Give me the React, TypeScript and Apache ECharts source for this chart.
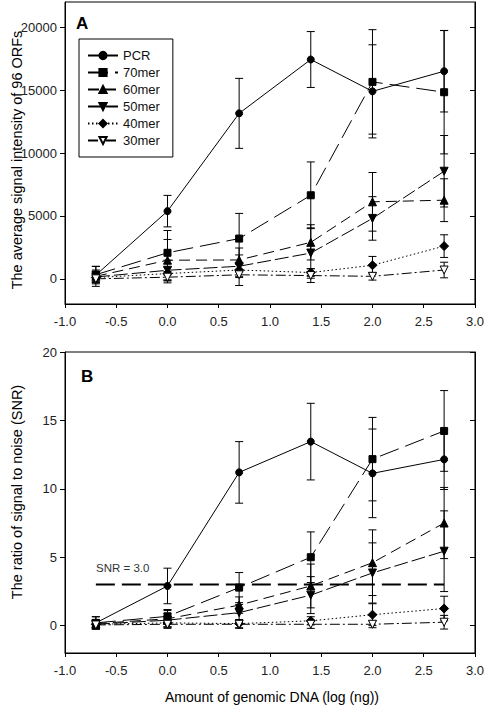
import React, { useEffect, useRef } from "react";
import * as echarts from "echarts";

// x positions: log10 of 0.2, 1, 5, 25, 100, 500 ng
const X_VALUES = [-0.699, 0, 0.699, 1.398, 2.0, 2.699];
const SERIES_NAMES = ["PCR", "70mer", "60mer", "50mer", "40mer", "30mer"];

// Panel A: average signal intensity (mean and error)
const A_PCR = [300, 5380, 13150, 17430, 14900, 16500];
const A_PCR_ERR = [700, 1250, 2780, 2220, 3700, 3240];
const A_70 = [330, 2070, 3200, 6640, 15650, 14830];
const A_70_ERR = [650, 1770, 2000, 2650, 4150, 4900];
const A_60 = [200, 1480, 1500, 2900, 6120, 6250];
const A_60_ERR = [500, 1650, 950, 1400, 2330, 1700];
const A_50 = [150, 680, 1000, 2050, 4800, 8550];
const A_50_ERR = [400, 800, 900, 2000, 1730, 2840];
const A_40 = [100, 420, 700, 500, 1080, 2600];
const A_40_ERR = [300, 500, 500, 300, 700, 900];
const A_30 = [0, 130, 320, 260, 200, 700];
const A_30_ERR = [600, 450, 850, 550, 300, 620];

// Panel B: signal to noise ratio (mean and error)
const B_PCR = [0.2, 2.9, 11.2, 13.45, 11.13, 12.15];
const B_PCR_ERR = [0.45, 1.3, 2.25, 2.8, 3.24, 2.2];
const B_70 = [0.2, 0.68, 2.78, 5.0, 12.17, 14.23];
const B_70_ERR = [0.45, 0.5, 1.1, 1.85, 3.05, 2.95];
const B_60 = [0.15, 0.5, 1.5, 2.9, 4.6, 7.5];
const B_60_ERR = [0.3, 0.6, 0.6, 1.6, 2.4, 2.6];
const B_50 = [0.1, 0.4, 0.95, 2.23, 3.85, 5.44];
const B_50_ERR = [0.3, 0.5, 0.6, 1.35, 2.2, 2.95];
const B_40 = [0.1, 0.2, 0.15, 0.35, 0.8, 1.25];
const B_40_ERR = [0.3, 0.3, 0.3, 0.3, 0.8, 0.9];
const B_30 = [0.05, 0.1, 0.1, 0.1, 0.1, 0.25];
const B_30_ERR = [0.3, 0.3, 0.3, 0.3, 0.25, 0.5];

const SNR_THRESHOLD = 3.0;
const SNR_X = [-0.699, 2.699];

const A_TICKS = [0, 5000, 10000, 15000, 20000];
const B_TICKS = [0, 5, 10, 15, 20];

const A_MEANS = [A_PCR, A_70, A_60, A_50, A_40, A_30];
const A_ERRS = [A_PCR_ERR, A_70_ERR, A_60_ERR, A_50_ERR, A_40_ERR, A_30_ERR];
const B_MEANS = [B_PCR, B_70, B_60, B_50, B_40, B_30];
const B_ERRS = [B_PCR_ERR, B_70_ERR, B_60_ERR, B_50_ERR, B_40_ERR, B_30_ERR];

const FONT = "'Liberation Sans', Arial, sans-serif";
const DOWN_TRI = "path://M0,0 L10,0 L5,9 Z";

const STYLES: any[] = [
  { symbol: "circle", size: 7, dash: "solid", fill: "#000" },
  { symbol: "rect", size: 7, dash: [20, 7], fill: "#000" },
  { symbol: "triangle", size: 8, dash: [11, 6], fill: "#000" },
  { symbol: DOWN_TRI, size: 8, dash: [14, 4], fill: "#000" },
  { symbol: "diamond", size: 9, dash: [1.5, 2.5], fill: "#000" },
  { symbol: DOWN_TRI, size: 8, dash: [10, 3, 2, 3], fill: "#fff" },
];

function errRender(params: any, api: any) {
  const x = api.value(0);
  const lo = api.value(1);
  const hi = api.value(2);
  const a = api.coord([x, hi]);
  const b = api.coord([x, lo]);
  const w = 4;
  const st = { stroke: "#000", lineWidth: 1 };
  return {
    type: "group",
    children: [
      { type: "line", shape: { x1: a[0], y1: a[1], x2: b[0], y2: b[1] }, style: st },
      { type: "line", shape: { x1: a[0] - w, y1: a[1], x2: a[0] + w, y2: a[1] }, style: st },
      { type: "line", shape: { x1: b[0] - w, y1: b[1], x2: b[0] + w, y2: b[1] }, style: st },
    ],
  };
}

function buildPanel(means: number[][], errs: number[][], xi: number, yi: number) {
  const out: any[] = [];
  const errData: number[][] = [];
  means.forEach((m, i) => {
    m.forEach((v, j) => {
      errData.push([X_VALUES[j], v - errs[i][j], v + errs[i][j]]);
    });
  });
  out.push({
    type: "custom",
    name: "err" + xi,
    xAxisIndex: xi,
    yAxisIndex: yi,
    renderItem: errRender,
    data: errData,
    z: 1,
    silent: true,
  });
  means.forEach((m, i) => {
    const s = STYLES[i];
    out.push({
      type: "line",
      name: SERIES_NAMES[i],
      xAxisIndex: xi,
      yAxisIndex: yi,
      data: m.map((v, j) => [X_VALUES[j], v]),
      symbol: s.symbol,
      symbolSize: s.size,
      showAllSymbol: true,
      lineStyle: { color: "#000", width: 1, type: s.dash },
      itemStyle: { color: s.fill, borderColor: "#000", borderWidth: 1 },
      z: 3,
    });
  });
  return out;
}

function makeYAxes(gridIndex: number, min: number, max: number, ticks: number[]) {
  return [
    {
      type: "value",
      gridIndex,
      min,
      max,
      position: "left",
      splitLine: { show: false },
      axisLine: { show: true, onZero: false, lineStyle: { color: "#000", width: 1 } },
      axisTick: { show: true, length: 5, inside: false, customValues: ticks, lineStyle: { color: "#000" } },
      axisLabel: {
        customValues: ticks,
        formatter: (v: number) => String(v),
        fontFamily: FONT,
        fontSize: 13,
        color: "#222",
        margin: 8,
      },
    },
    {
      type: "value",
      gridIndex,
      min,
      max,
      position: "right",
      splitLine: { show: false },
      axisLine: { show: true, onZero: false, lineStyle: { color: "#000", width: 1 } },
      axisTick: { show: true, length: 5, inside: true, customValues: ticks, lineStyle: { color: "#000" } },
      axisLabel: { show: false, customValues: ticks },
    },
  ];
}

function makeXAxis(gridIndex: number) {
  return {
    type: "value",
    gridIndex,
    min: -1,
    max: 3,
    interval: 0.5,
    splitLine: { show: false },
    axisLine: { show: true, onZero: false, lineStyle: { color: "#000", width: 1 } },
    axisTick: { show: true, length: 4, lineStyle: { color: "#000" } },
    axisLabel: {
      formatter: (v: number) => v.toFixed(1),
      fontFamily: FONT,
      fontSize: 13,
      color: "#222",
      margin: 11,
      showMinLabel: true,
      showMaxLabel: true,
    },
  };
}

export default function App() {
  const ref = useRef<HTMLDivElement>(null);
  useEffect(() => {
    if (!ref.current) return;
    const chart = echarts.init(ref.current, null, { renderer: "svg" });
    const series: any[] = [
      ...buildPanel(A_MEANS, A_ERRS, 0, 0),
      ...buildPanel(B_MEANS, B_ERRS, 1, 2),
      {
        type: "line",
        name: "SNR threshold",
        xAxisIndex: 1,
        yAxisIndex: 2,
        data: SNR_X.map((x) => [x, SNR_THRESHOLD]),
        symbol: "none",
        lineStyle: { color: "#000", width: 2, type: [19, 7] },
        z: 2,
        silent: true,
      },
    ];
    chart.setOption({
      animation: false,
      backgroundColor: "#fff",
      grid: [
        { left: 65, top: 2, width: 412, height: 302, show: true, borderColor: "#000", borderWidth: 1 },
        { left: 65, top: 352, width: 412, height: 301, show: true, borderColor: "#000", borderWidth: 1 },
      ],
      xAxis: [makeXAxis(0), makeXAxis(1)],
      yAxis: [
        ...makeYAxes(0, -2000, 22000, A_TICKS),
        ...makeYAxes(1, -2, 20, B_TICKS),
      ],
      legend: {
        data: SERIES_NAMES,
        orient: "vertical",
        left: 79,
        top: 39,
        itemWidth: 30,
        itemHeight: 9,
        itemGap: 4,
        padding: [10, 13, 10, 8],
        borderColor: "#000",
        borderWidth: 1,
        selectedMode: false,
        textStyle: { fontFamily: FONT, fontSize: 13, color: "#111" },
      },
      graphic: [
        { type: "text", x: 76, y: 23, style: { text: "A", fontFamily: FONT, fontSize: 17, fontWeight: "bold", fill: "#000", textVerticalAlign: "middle" } },
        { type: "text", x: 81, y: 376, style: { text: "B", fontFamily: FONT, fontSize: 17, fontWeight: "bold", fill: "#000", textVerticalAlign: "middle" } },
        { type: "text", x: 96, y: 568, style: { text: "SNR = 3.0", fontFamily: FONT, fontSize: 11.5, fill: "#333", textVerticalAlign: "middle" } },
        {
          type: "text", x: 17, y: 160, rotation: Math.PI / 2,
          style: { text: "The average signal intensity of 96 ORFs", fontFamily: FONT, fontSize: 14.5, fill: "#000", textAlign: "center", textVerticalAlign: "middle" },
        },
        {
          type: "text", x: 17, y: 492, rotation: Math.PI / 2,
          style: { text: "The ratio of signal to noise (SNR)", fontFamily: FONT, fontSize: 14.5, fill: "#000", textAlign: "center", textVerticalAlign: "middle" },
        },
        {
          type: "text", x: 272, y: 697,
          style: { text: "Amount of genomic DNA (log (ng))", fontFamily: FONT, fontSize: 14, fill: "#000", textAlign: "center", textVerticalAlign: "middle" },
        },
      ],
      series,
    });
    return () => chart.dispose();
  }, []);
  return (
    <div
      ref={ref}
      style={{ position: "fixed", left: 0, top: 0, width: 487, height: 707, background: "#fff" }}
    />
  );
}
